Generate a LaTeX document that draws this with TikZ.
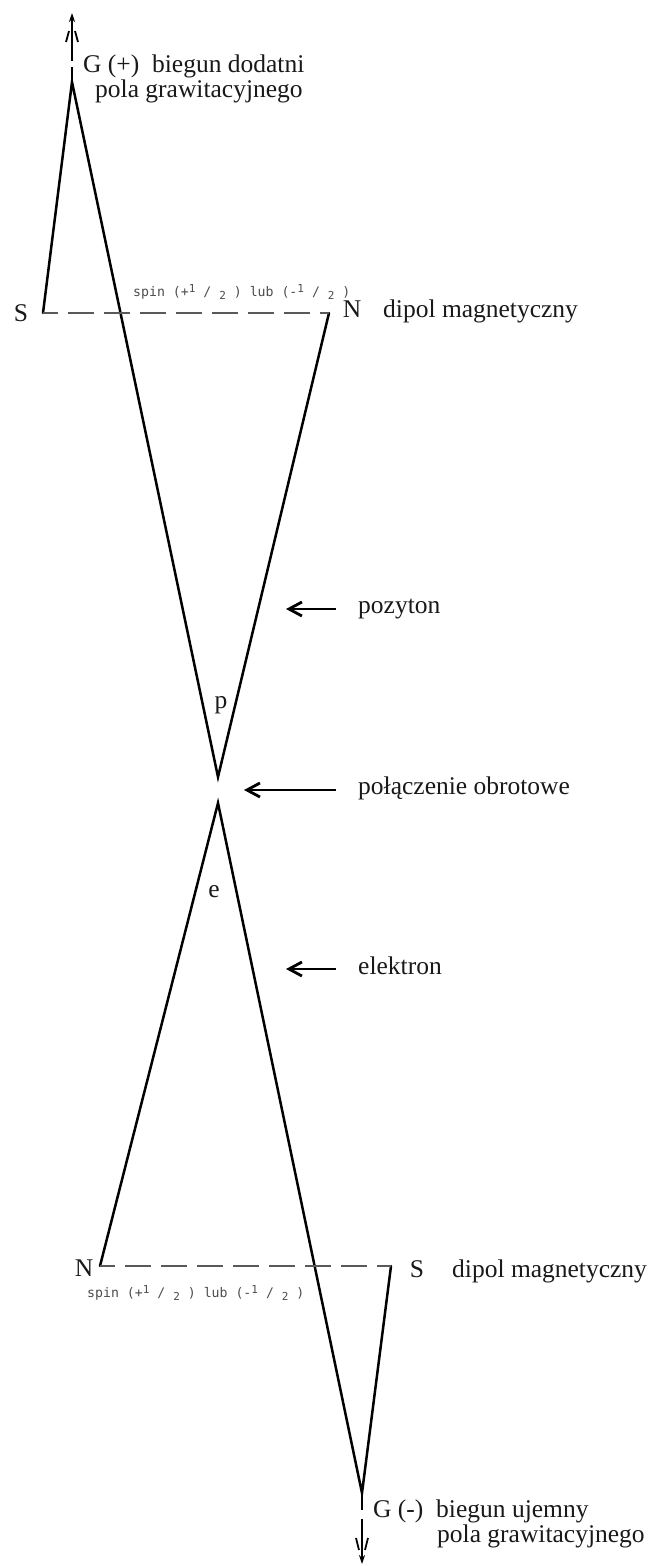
\documentclass[tikz,border=0pt]{standalone}
\usepackage{fontspec}
\setmainfont{Liberation Serif}
\newfontfamily\spinfont{DejaVu Sans Mono}
\usetikzlibrary{arrows.meta}
\newcommand\supdig[1]{\raisebox{3.4pt}{\fontsize{11}{11}\selectfont #1}}
\newcommand\subdig[1]{\raisebox{-3.4pt}{\fontsize{11}{11}\selectfont #1}}
\begin{document}
\begin{tikzpicture}[x=1pt,y=-1pt,
  edge/.style={line width=2.5pt, line cap=round},
  dipole/.style={line width=1.8pt, draw=black!65, dash pattern=on 26pt off 10pt, dash phase=11pt},
  lbl/.style={inner sep=0pt, font=\fontsize{25.5}{25.5}\selectfont, text=black!90},
  spinlbl/.style={inner sep=0pt, anchor=west, font=\spinfont\fontsize{13.2}{14}\selectfont, text=black!70},
  pointer/.style={line width=2.8pt, -{Straight Barb[length=13pt,width=14pt]}},
  axisln/.style={line width=1.8pt},
  axistip/.style={-{Stealth[length=9pt,width=6pt]}}
]
\useasboundingbox (0,0) rectangle (649,1566);

% vertices
\coordinate (Gp) at (72,82);
\coordinate (Sp) at (43,313);
\coordinate (Np) at (329,313);
\coordinate (P)  at (218,777);
\coordinate (E)  at (218,803);
\coordinate (Ne) at (100,1266);
\coordinate (Se) at (391,1266);
\coordinate (Gm) at (362,1493);

% triangles
\draw[edge] (Sp) -- (Gp) -- (P) -- (Np);
\draw[edge] (Ne) -- (E) -- (Gm) -- (Se);
\draw[dipole] (Sp) -- (Np);
\draw[dipole] (Ne) -- (Se);

% gravity axis top
\coordinate (Gpt) at (72,13);
\draw[axisln, axistip, dash pattern=on 15pt off 6pt on 200pt] (Gp) -- (Gpt);
\draw[axisln] (66,42) -- (69,31);
\draw[axisln] (78,42) -- (75,31);

% gravity axis bottom
\coordinate (Gmt) at (362,1564);
\draw[axisln, axistip, dash pattern=on 17pt off 9pt on 200pt] (Gm) -- (Gmt);
\draw[axisln] (356,1538) -- (359,1550);
\draw[axisln] (368,1538) -- (365,1550);

% labels
\node[lbl, anchor=base west] (gplus)  at (83,72) {G (+)~ biegun dodatni};
\node[lbl, anchor=base west] (gplus2) at (95,97) {pola grawitacyjnego};
\node[spinlbl] (spintop) at (133,292) {spin (+\supdig{1} / \subdig{2} ) lub (-\supdig{1} / \subdig{2} )};
\node[lbl, anchor=base] (Slab) at (21,321) {S};
\node[lbl, anchor=base] (Nlab) at (352,317) {N};
\node[lbl, anchor=base west] (dip1) at (383,317) {dipol magnetyczny};
\node[lbl, anchor=base west] (poz) at (358,613) {pozyton};
\node[lbl, anchor=base] (plab) at (221,708) {p};
\node[lbl, anchor=base west] (pol) at (358,794) {połączenie obrotowe};
\node[lbl, anchor=base] (elab) at (214,897) {e};
\node[lbl, anchor=base west] (ele) at (358,974) {elektron};
\node[lbl, anchor=base] (N2) at (84,1276) {N};
\node[spinlbl] (spinbot) at (87,1293) {spin (+\supdig{1} / \subdig{2} ) lub (-\supdig{1} / \subdig{2} )};
\node[lbl, anchor=base] (S2) at (417,1277) {S};
\node[lbl, anchor=base west] (dip2) at (452,1277) {dipol magnetyczny};
\node[lbl, anchor=base west] (gminus)  at (373,1517) {G (-)~ biegun ujemny};
\node[lbl, anchor=base west] (gminus2) at (437,1542) {pola grawitacyjnego};

% pointers
\coordinate (pozT) at (336,609);  \coordinate (pozH) at (286,609);
\coordinate (polT) at (336,790);  \coordinate (polH) at (244,790);
\coordinate (eleT) at (336,969);  \coordinate (eleH) at (286,969);
\draw[pointer] (pozT) -- (pozH);
\draw[pointer] (polT) -- (polH);
\draw[pointer] (eleT) -- (eleH);
\end{tikzpicture}
\end{document}
